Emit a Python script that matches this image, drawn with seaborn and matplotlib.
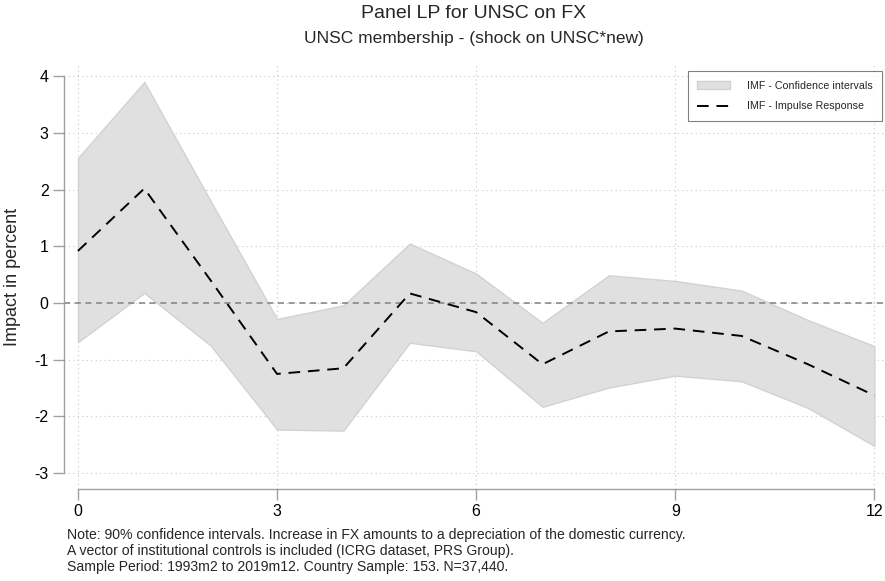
import matplotlib
matplotlib.use("Agg")
import matplotlib.pyplot as plt
import numpy as np
import pandas as pd
import seaborn as sns
from matplotlib.patches import Patch
from matplotlib.lines import Line2D

HORIZON = [0, 1, 2, 3, 4, 5, 6, 7, 8, 9, 10, 11, 12]
IRF = [0.92, 2.02, 0.40, -1.25, -1.15, 0.17, -0.16, -1.08, -0.50, -0.45, -0.58, -1.08, -1.63]
CI_UPPER = [2.56, 3.90, 1.80, -0.28, -0.04, 1.05, 0.52, -0.35, 0.49, 0.39, 0.22, -0.30, -0.76]
CI_LOWER = [-0.69, 0.18, -0.75, -2.23, -2.25, -0.70, -0.85, -1.83, -1.49, -1.28, -1.38, -1.85, -2.52]
X_TICKS = [0, 3, 6, 9, 12]
Y_TICKS = [-3, -2, -1, 0, 1, 2, 3, 4]

TITLE = "Panel LP for UNSC on FX"
SUBTITLE = "UNSC membership - (shock on UNSC*new)"
NOTES = [
    "Note: 90% confidence intervals. Increase in FX amounts to a depreciation of the domestic currency.",
    "A vector of institutional controls is included (ICRG dataset, PRS Group).",
    "Sample Period: 1993m2 to 2019m12. Country Sample: 153. N=37,440.",
]

sns.set_theme(style="white")
plt.rcParams["font.family"] = ["Liberation Sans", "DejaVu Sans"]
plt.rcParams["axes.unicode_minus"] = False

df = pd.DataFrame({"h": HORIZON, "irf": IRF, "lo": CI_LOWER, "hi": CI_UPPER})

fig = plt.figure(figsize=(8.85, 5.81), dpi=100)
ax = fig.add_axes([64 / 885, 1 - 489 / 581, 1 - 64 / 885, (489 - 65) / 581])

ax.fill_between(df["h"], df["lo"], df["hi"], color="#e0e0e0", edgecolor="#d2d2d2", linewidth=1.0, zorder=1)
sns.lineplot(data=df, x="h", y="irf", ax=ax, color="black", linewidth=1.4,
             linestyle=(0, (6, 4)), zorder=3)
ax.axhline(0, color="#808080", linewidth=1.1, linestyle=(0, (4, 3)), zorder=2)

ax.set_xlim(-0.21, 12.16)
ax.set_ylim(-3.28, 4.2)
ax.set_xticks(X_TICKS)
ax.set_yticks(Y_TICKS)
ax.grid(True, linestyle=(0, (1, 3)), color="#c8c8c8", linewidth=0.8, zorder=0)

for side in ["top", "right"]:
    ax.spines[side].set_visible(False)
for side in ["left", "bottom"]:
    ax.spines[side].set_color("#a0a0a0")
    ax.spines[side].set_linewidth(1.0)
ax.spines["left"].set_bounds(min(Y_TICKS), max(Y_TICKS))
ax.spines["bottom"].set_bounds(min(X_TICKS), max(X_TICKS))
ax.tick_params(axis="both", direction="out", length=8, width=1.0, color="#a0a0a0",
               labelsize=11.5, labelcolor="black", pad=3, left=True, bottom=True)

ax.set_xlabel("")
ax.set_ylabel("Impact in percent", fontsize=13, labelpad=10)

handles = [
    Patch(facecolor="#e0e0e0", edgecolor="#d2d2d2", label="IMF - Confidence intervals"),
    Line2D([0], [0], color="black", linewidth=1.4, linestyle=(0, (6, 4)), label="IMF - Impulse Response"),
]
leg = ax.legend(handles=handles, loc="upper right", fontsize=7.7, frameon=True, fancybox=False,
                edgecolor="#606060", handlelength=3.0, borderpad=0.9, labelspacing=1.0,
                handletextpad=1.6, borderaxespad=0)
leg.get_frame().set_linewidth(0.8)
leg.set_bbox_to_anchor((882 / 885, 1 - 71 / 581), transform=fig.transFigure)

# titles are centred over the plot region, as Stata does
title_x = 474 / 885
fig.text(title_x, 1 - 13 / 581, TITLE, ha="center", va="center", fontsize=14)
fig.text(title_x, 1 - 38 / 581, SUBTITLE, ha="center", va="center", fontsize=12.5)
for i, line in enumerate(NOTES):
    fig.text(67 / 885, 1 - (535 + 16 * i) / 581, line, ha="left", va="center", fontsize=10.1)

fig.savefig("out.png", dpi=100)
